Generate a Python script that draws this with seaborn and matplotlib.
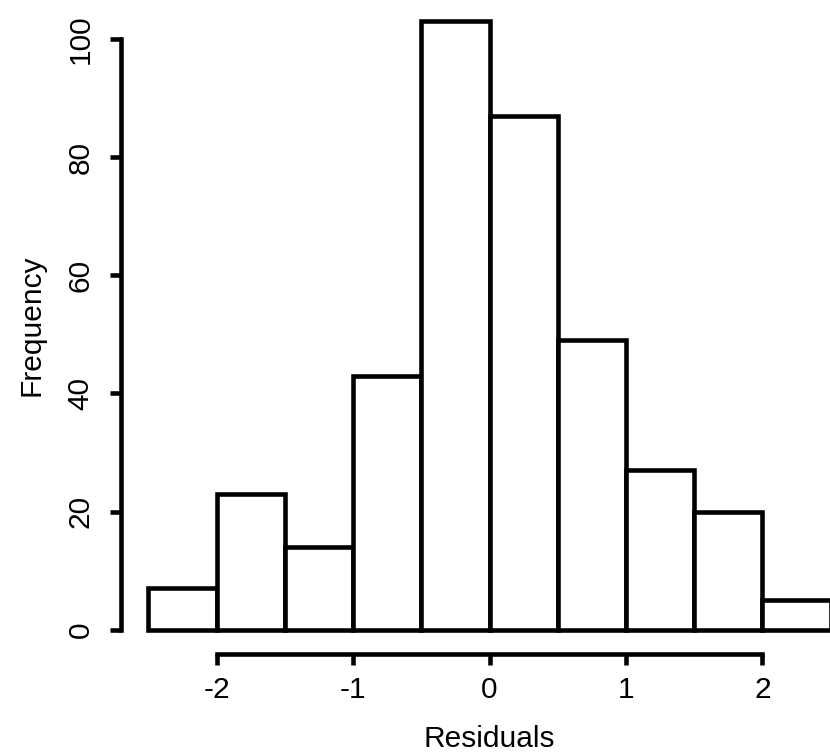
import numpy as np
import pandas as pd
import seaborn as sb
import matplotlib.pyplot as plt

# гистограмма остатков, значения
bin_edges = [-2.5, -2.0, -1.5, -1.0, -0.5, 0.0, 0.5, 1.0, 1.5, 2.0, 2.5]
counts = [7, 23, 14, 43, 103, 87, 49, 27, 20, 5]
x_ticks = [-2, -1, 0, 1, 2]
y_ticks = [0, 20, 40, 60, 80, 100]

edges = np.array(bin_edges)
df = pd.DataFrame({'Residuals': (edges[:-1] + edges[1:]) / 2, 'n': counts})

sb.set_style('ticks')
plt.rcParams['font.family'] = ['Liberation Sans', 'DejaVu Sans']
plt.rcParams['axes.unicode_minus'] = False

fig = plt.figure(figsize=(8.3, 7.52), dpi=100, facecolor='white')
ax = fig.add_axes([121 / 830, 98 / 752, 737 / 830, 657 / 752])

sb.histplot(data=df, x='Residuals', weights='n', bins=bin_edges, color='white',
            edgecolor='black', linewidth=3.3, alpha=1, ax=ax)

ax.set_xlim(-2.7, 2.7)
ax.set_ylim(-4.12, 107.12)
ax.set_xticks(x_ticks)
ax.set_yticks(y_ticks)

# оси в стиле R: только от первой до последней отметки
for side in ['top', 'right']:
    ax.spines[side].set_visible(False)
ax.spines['left'].set_bounds(0, 100)
ax.spines['bottom'].set_bounds(-2, 2)
for side in ['left', 'bottom']:
    ax.spines[side].set_linewidth(3.3)
    ax.spines[side].set_color('black')

ax.tick_params(axis='both', width=3.3, length=8, colors='black', labelsize=21.5)
ax.tick_params(axis='x', pad=8)
ax.tick_params(axis='y', pad=11)
plt.setp(ax.get_yticklabels(), rotation=90, va='center')

ax.set_xlabel('Residuals', fontsize=21.5, color='black')
ax.set_ylabel('Frequency', fontsize=21.5, color='black')
ax.xaxis.set_label_coords(0.5, -0.1075)
ax.yaxis.set_label_coords(-0.1031, 0.5)

plt.savefig('out.png', dpi=100, facecolor='white')
